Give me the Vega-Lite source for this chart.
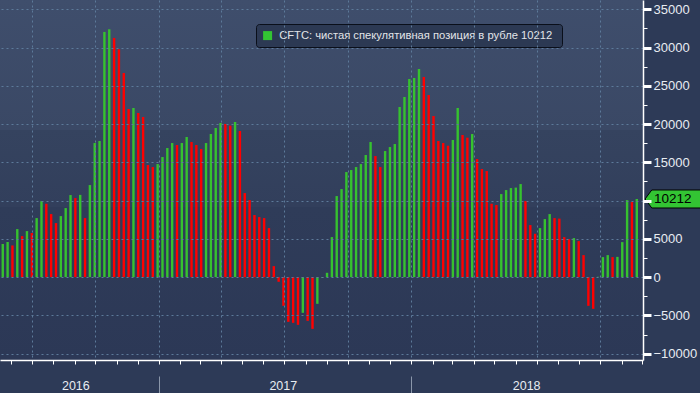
{
  "$schema": "https://vega.github.io/schema/vega-lite/v6.json",
  "width": 643,
  "height": 360,
  "padding": 0,
  "background": "#2d3a57",
  "config": {"view": {"stroke": null}, "font": "Liberation Sans"},
  "datasets": {
    "cot": [
      {"date": "2016-05-20", "value": 4316, "change": "up"},
      {"date": "2016-05-27", "value": 4578, "change": "up"},
      {"date": "2016-06-03", "value": 4142, "change": "down"},
      {"date": "2016-06-10", "value": 6278, "change": "up"},
      {"date": "2016-06-17", "value": 5363, "change": "down"},
      {"date": "2016-06-24", "value": 6017, "change": "up"},
      {"date": "2016-07-01", "value": 5755, "change": "down"},
      {"date": "2016-07-08", "value": 7717, "change": "up"},
      {"date": "2016-07-15", "value": 9941, "change": "up"},
      {"date": "2016-07-22", "value": 9592, "change": "down"},
      {"date": "2016-07-29", "value": 8240, "change": "down"},
      {"date": "2016-08-05", "value": 7063, "change": "down"},
      {"date": "2016-08-12", "value": 7979, "change": "up"},
      {"date": "2016-08-19", "value": 9025, "change": "up"},
      {"date": "2016-08-26", "value": 10726, "change": "up"},
      {"date": "2016-09-02", "value": 10333, "change": "down"},
      {"date": "2016-09-09", "value": 10750, "change": "up"},
      {"date": "2016-09-16", "value": 7717, "change": "down"},
      {"date": "2016-09-23", "value": 12034, "change": "up"},
      {"date": "2016-09-30", "value": 17527, "change": "up"},
      {"date": "2016-10-07", "value": 17789, "change": "up"},
      {"date": "2016-10-14", "value": 32046, "change": "up"},
      {"date": "2016-10-21", "value": 32395, "change": "up"},
      {"date": "2016-10-28", "value": 31261, "change": "down"},
      {"date": "2016-11-04", "value": 29779, "change": "down"},
      {"date": "2016-11-11", "value": 26683, "change": "down"},
      {"date": "2016-11-18", "value": 21974, "change": "down"},
      {"date": "2016-11-25", "value": 22105, "change": "up"},
      {"date": "2016-12-02", "value": 21451, "change": "down"},
      {"date": "2016-12-09", "value": 20928, "change": "down"},
      {"date": "2016-12-16", "value": 14650, "change": "down"},
      {"date": "2016-12-23", "value": 14388, "change": "down"},
      {"date": "2016-12-30", "value": 14780, "change": "up"},
      {"date": "2017-01-06", "value": 15696, "change": "up"},
      {"date": "2017-01-13", "value": 16873, "change": "up"},
      {"date": "2017-01-20", "value": 17527, "change": "up"},
      {"date": "2017-01-27", "value": 17266, "change": "down"},
      {"date": "2017-02-03", "value": 17527, "change": "up"},
      {"date": "2017-02-10", "value": 18312, "change": "up"},
      {"date": "2017-02-17", "value": 17658, "change": "down"},
      {"date": "2017-02-24", "value": 17266, "change": "down"},
      {"date": "2017-03-03", "value": 16742, "change": "down"},
      {"date": "2017-03-10", "value": 17527, "change": "up"},
      {"date": "2017-03-17", "value": 18704, "change": "up"},
      {"date": "2017-03-24", "value": 19489, "change": "up"},
      {"date": "2017-03-31", "value": 20143, "change": "up"},
      {"date": "2017-04-07", "value": 20012, "change": "down"},
      {"date": "2017-04-14", "value": 19794, "change": "down"},
      {"date": "2017-04-21", "value": 20274, "change": "up"},
      {"date": "2017-04-28", "value": 19097, "change": "down"},
      {"date": "2017-05-05", "value": 10987, "change": "down"},
      {"date": "2017-05-12", "value": 10072, "change": "down"},
      {"date": "2017-05-19", "value": 8110, "change": "down"},
      {"date": "2017-05-26", "value": 7848, "change": "down"},
      {"date": "2017-06-02", "value": 7717, "change": "down"},
      {"date": "2017-06-09", "value": 6409, "change": "down"},
      {"date": "2017-06-16", "value": 1439, "change": "down"},
      {"date": "2017-06-23", "value": -610, "change": "down"},
      {"date": "2017-06-30", "value": -3750, "change": "down"},
      {"date": "2017-07-07", "value": -5842, "change": "down"},
      {"date": "2017-07-14", "value": -5973, "change": "down"},
      {"date": "2017-07-21", "value": -6235, "change": "down"},
      {"date": "2017-07-28", "value": -4665, "change": "up"},
      {"date": "2017-08-04", "value": -5712, "change": "down"},
      {"date": "2017-08-11", "value": -6758, "change": "down"},
      {"date": "2017-08-18", "value": -3488, "change": "up"},
      {"date": "2017-08-25", "value": -80, "change": "up"},
      {"date": "2017-09-01", "value": 567, "change": "up"},
      {"date": "2017-09-08", "value": 5232, "change": "up"},
      {"date": "2017-09-15", "value": 10595, "change": "up"},
      {"date": "2017-09-22", "value": 11510, "change": "up"},
      {"date": "2017-09-29", "value": 13734, "change": "up"},
      {"date": "2017-10-06", "value": 13996, "change": "up"},
      {"date": "2017-10-13", "value": 14388, "change": "up"},
      {"date": "2017-10-20", "value": 14780, "change": "up"},
      {"date": "2017-10-27", "value": 15958, "change": "up"},
      {"date": "2017-11-03", "value": 17658, "change": "up"},
      {"date": "2017-11-10", "value": 15827, "change": "down"},
      {"date": "2017-11-17", "value": 14388, "change": "down"},
      {"date": "2017-11-24", "value": 16481, "change": "up"},
      {"date": "2017-12-01", "value": 17004, "change": "up"},
      {"date": "2017-12-08", "value": 17396, "change": "up"},
      {"date": "2017-12-15", "value": 22236, "change": "up"},
      {"date": "2017-12-22", "value": 23544, "change": "up"},
      {"date": "2017-12-29", "value": 25898, "change": "up"},
      {"date": "2018-01-05", "value": 26029, "change": "up"},
      {"date": "2018-01-12", "value": 27206, "change": "up"},
      {"date": "2018-01-19", "value": 26160, "change": "down"},
      {"date": "2018-01-26", "value": 23806, "change": "down"},
      {"date": "2018-02-02", "value": 21059, "change": "down"},
      {"date": "2018-02-09", "value": 17789, "change": "down"},
      {"date": "2018-02-16", "value": 17527, "change": "down"},
      {"date": "2018-02-23", "value": 17178, "change": "down"},
      {"date": "2018-03-02", "value": 17920, "change": "up"},
      {"date": "2018-03-09", "value": 22105, "change": "up"},
      {"date": "2018-03-16", "value": 18574, "change": "down"},
      {"date": "2018-03-23", "value": 18225, "change": "down"},
      {"date": "2018-03-30", "value": 18704, "change": "up"},
      {"date": "2018-04-06", "value": 15434, "change": "down"},
      {"date": "2018-04-13", "value": 14126, "change": "down"},
      {"date": "2018-04-20", "value": 13865, "change": "down"},
      {"date": "2018-04-27", "value": 9592, "change": "down"},
      {"date": "2018-05-04", "value": 9418, "change": "down"},
      {"date": "2018-05-11", "value": 10856, "change": "up"},
      {"date": "2018-05-18", "value": 11380, "change": "up"},
      {"date": "2018-05-25", "value": 11641, "change": "up"},
      {"date": "2018-06-01", "value": 11700, "change": "up"},
      {"date": "2018-06-08", "value": 12164, "change": "up"},
      {"date": "2018-06-15", "value": 9941, "change": "down"},
      {"date": "2018-06-22", "value": 6802, "change": "down"},
      {"date": "2018-06-29", "value": 5668, "change": "down"},
      {"date": "2018-07-06", "value": 6409, "change": "up"},
      {"date": "2018-07-13", "value": 7586, "change": "up"},
      {"date": "2018-07-20", "value": 8240, "change": "up"},
      {"date": "2018-07-27", "value": 7717, "change": "down"},
      {"date": "2018-08-03", "value": 7650, "change": "down"},
      {"date": "2018-08-10", "value": 5232, "change": "down"},
      {"date": "2018-08-17", "value": 4970, "change": "down"},
      {"date": "2018-08-24", "value": 5101, "change": "up"},
      {"date": "2018-08-31", "value": 4709, "change": "down"},
      {"date": "2018-09-07", "value": 2878, "change": "down"},
      {"date": "2018-09-14", "value": -3750, "change": "down"},
      {"date": "2018-09-21", "value": -4142, "change": "down"},
      {"date": "2018-09-28", "value": 50, "change": "up"},
      {"date": "2018-10-05", "value": 2616, "change": "up"},
      {"date": "2018-10-12", "value": 2878, "change": "up"},
      {"date": "2018-10-19", "value": 2616, "change": "down"},
      {"date": "2018-10-26", "value": 2650, "change": "up"},
      {"date": "2018-11-02", "value": 4578, "change": "up"},
      {"date": "2018-11-09", "value": 10072, "change": "up"},
      {"date": "2018-11-16", "value": 9810, "change": "down"},
      {"date": "2018-11-23", "value": 10212, "change": "up"}
    ],
    "last": [
      {"date": "2018-11-23", "value": 10212, "series": "CFTC: чистая спекулятивная позиция в рубле  10212"}
    ]
  },
  "layer": [
    {
      "data": {"values": [{}]},
      "mark": {
        "type": "rect",
        "color": {
          "gradient": "linear", "x1": 0, "y1": 0, "x2": 0, "y2": 1,
          "stops": [
            {"offset": 0, "color": "#3f4e6c"},
            {"offset": 0.36, "color": "#3a4865"},
            {"offset": 0.362, "color": "#35435f"},
            {"offset": 0.574, "color": "#323f5c"},
            {"offset": 0.576, "color": "#2f3c59"},
            {"offset": 1, "color": "#2c3856"}
          ]
        }
      },
      "encoding": {}
    },
    {
      "data": {"name": "cot"},
      "mark": {"type": "bar", "size": 2.4},
      "encoding": {
        "x": {
          "field": "date", "type": "temporal",
          "scale": {"domain": [{"year": 2016, "month": 5, "date": 16}, {"year": 2018, "month": 12, "date": 2}], "padding": 0},
          "axis": {
            "orient": "bottom",
            "title": null,
            "zindex": 1,
            "labels": false,
            "tickCount": {"interval": "month", "step": 1},
            "tickSize": 4,
            "tickColor": "#ffffff",
            "tickWidth": 1,
            "domainColor": "#ffffff",
            "domainWidth": 1.5,
            "grid": true,
            "gridColor": "#5d7a9a",
            "gridDash": [2, 3],
            "gridWidth": 1,
            "gridOpacity": {"condition": {"test": "month(datum.value) % 3 === 0", "value": 1}, "value": 0}
          }
        },
        "y": {
          "field": "value", "type": "quantitative", "title": null,
          "scale": {"domain": [-10830, 36220], "nice": false, "zero": false},
          "axis": {
            "orient": "right",
            "zindex": 1,
            "values": [-10000, -7500, -5000, -2500, 0, 2500, 5000, 7500, 10000, 12500, 15000, 17500, 20000, 22500, 25000, 27500, 30000, 32500, 35000],
            "labelExpr": "datum.value % 5000 === 0 && datum.value !== 10000 ? format(datum.value, 'd') : ''",
            "labelOverlap": false,
            "labelColor": "#e8ecf2",
            "labelFont": "Liberation Sans",
            "labelFontSize": 13,
            "labelPadding": 2,
            "labelBaseline": "middle",
            "tickColor": "#ffffff",
            "tickSize": {"condition": {"test": "datum.value % 5000 === 0", "value": 8}, "value": 4},
            "tickWidth": {"condition": {"test": "datum.value % 5000 === 0", "value": 3}, "value": 1},
            "domainColor": "#ffffff",
            "domainWidth": 1.5,
            "grid": true,
            "gridColor": "#5d7a9a",
            "gridDash": [2, 3],
            "gridWidth": 1,
            "gridOpacity": {"condition": {"test": "datum.value % 5000 === 0", "value": 1}, "value": 0}
          }
        },
        "color": {
          "field": "change", "type": "nominal",
          "scale": {"domain": ["up", "down"], "range": ["#36c22f", "#ff0000"]},
          "legend": null
        }
      }
    },
    {
      "data": {"name": "last"},
      "mark": {
        "type": "point",
        "filled": true,
        "opacity": 1,
        "size": 10000,
        "shape": "M0.166,0L0.3,-0.18L1.3,-0.18L1.3,0.18L0.3,0.18Z",
        "stroke": "#000000",
        "strokeWidth": 1
      },
      "encoding": {
        "x": {"field": "date", "type": "temporal", "axis": null},
        "y": {"field": "value", "type": "quantitative", "axis": null},
        "fill": {
          "field": "series", "type": "nominal",
          "scale": {"range": ["#33c433"]},
          "legend": {
            "orient": "none",
            "legendX": 256,
            "legendY": 24,
            "title": null,
            "padding": 6,
            "fillColor": "#2c3953",
            "strokeColor": "#0a0f1a",
            "cornerRadius": 3,
            "symbolType": "square",
            "symbolSize": 81,
            "symbolStrokeWidth": 0,
            "symbolOpacity": 1,
            "labelColor": "#e2e4e8",
            "labelFont": "Liberation Sans",
            "labelFontSize": 11.2,
            "labelOffset": 6,
            "labelLimit": 500
          }
        }
      }
    },
    {
      "data": {"name": "last"},
      "mark": {"type": "text", "dx": 36, "align": "center", "baseline": "middle", "font": "Liberation Sans", "fontSize": 13.5, "color": "#000000"},
      "encoding": {
        "x": {
          "field": "date", "type": "temporal",
          "axis": {
            "orient": "bottom",
            "title": null,
            "offset": 16,
            "domain": false,
            "grid": false,
            "values": [
              {"year": 2016, "month": 9, "date": 2},
              {"year": 2017, "month": 1, "date": 1},
              {"year": 2017, "month": 6, "date": 29},
              {"year": 2018, "month": 1, "date": 1},
              {"year": 2018, "month": 6, "date": 16}
            ],
            "labelExpr": "month(datum.value) === 0 && date(datum.value) === 1 ? '' : timeFormat(datum.value, '%Y')",
            "tickSize": 18,
            "tickColor": "#8a96aa",
            "tickWidth": 1,
            "tickOpacity": {"condition": {"test": "month(datum.value) === 0 && date(datum.value) === 1", "value": 1}, "value": 0},
            "labelPadding": -15,
            "labelBaseline": "top",
            "labelColor": "#e8ecf2",
            "labelFont": "Liberation Sans",
            "labelFontSize": 12.5
          }
        },
        "y": {"field": "value", "type": "quantitative", "axis": null},
        "text": {"field": "value", "type": "quantitative", "format": "d"}
      }
    }
  ],
  "resolve": {"axis": {"x": "independent", "y": "independent"}}
}
